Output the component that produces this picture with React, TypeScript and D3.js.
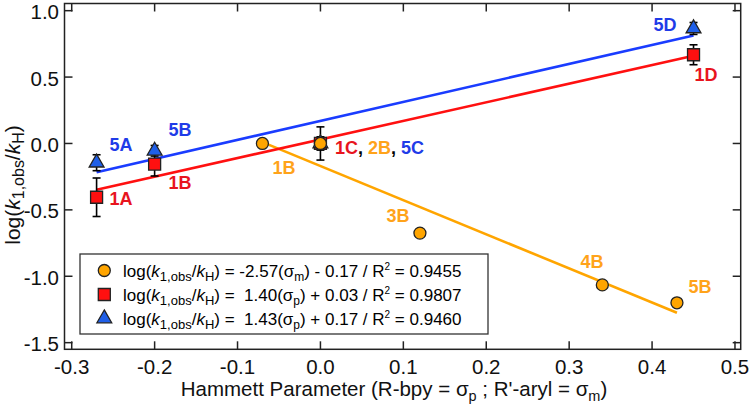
import React from "react";
import * as d3 from "d3";

const xTicks = [-0.3, -0.2, -0.1, 0.0, 0.1, 0.2, 0.3, 0.4, 0.5];
const yTicks = [1.0, 0.5, 0.0, -0.5, -1.0, -1.5];

const orangeX = [-0.07, 0.0, 0.12, 0.34, 0.43];
const orangeY = [0.0, 0.0, -0.675, -1.065, -1.2];

const redX = [-0.27, -0.2, 0.0, 0.45];
const redY = [-0.405, -0.155, 0.0, 0.668];
const redErr = [0.145, 0.09, 0.125, 0.075];

const blueX = [-0.27, -0.2, 0.0, 0.45];
const blueY = [-0.145, -0.055, 0.0, 0.866];
const blueErr = [0.06, 0.04, 0.05, 0.045];

const fitSlope = [-2.57, 1.4, 1.43];
const fitIntercept = [-0.17, 0.03, 0.17];
const fitRange = [
  [-0.07, 0.43],
  [-0.27, 0.45],
  [-0.27, 0.45],
];
const fitR2 = ["0.9455", "0.9807", "0.9460"];
const fitSigma = ["m", "p", "p"];

const ORANGE = "#ffa500";
const RED = "#ff1010";
const BLUE = "#1a3cff";
const ORANGE_T = "#ffa31a";
const RED_T = "#e8141e";
const BLUE_T = "#1f3ce8";
const TRI_FILL = "#1f5fe8";

type Lbl = { text: string; x: number; y: number; color: string };
const pointLabels: Lbl[] = [
  { text: "5A", x: 121, y: 145, color: BLUE_T },
  { text: "5B", x: 180, y: 130, color: BLUE_T },
  { text: "1A", x: 121, y: 199, color: RED_T },
  { text: "1B", x: 180, y: 183, color: RED_T },
  { text: "1B", x: 284, y: 168, color: ORANGE_T },
  { text: "3B", x: 398, y: 216, color: ORANGE_T },
  { text: "4B", x: 592, y: 262, color: ORANGE_T },
  { text: "5B", x: 700, y: 287, color: ORANGE_T },
  { text: "5D", x: 665, y: 25, color: BLUE_T },
  { text: "1D", x: 706, y: 75, color: RED_T },
];

const FONT = "Liberation Sans, Arial, Helvetica, sans-serif";

export default function App() {
  const W = 750;
  const H = 406;
  const left = 64.5,
    right = 740.7,
    top = 3.5,
    bottom = 349.3;
  const x = d3.scaleLinear().domain([-0.3087, 0.5069]).range([left, right]);
  const y = d3.scaleLinear().domain([1.054, -1.55]).range([top, bottom]);
  const tickLen = 8;

  const line = d3
    .line<number>()
    .x((d) => x(d[0]))
    .y((d) => y(d[1]));

  const sq = d3.symbol(d3.symbolSquare, 144)();
  const circ = d3.symbol(d3.symbolCircle, 113)();
  const tri = d3.symbol(d3.symbolTriangle, 95)();
  const capW = 8;

  const errBar = (cx: number, cy: number, e: number, key: string) => {
    const px = x(cx);
    const y1 = y(cy + e);
    const y2 = y(cy - e);
    return (
      <g key={key} stroke="#000" strokeWidth={1.6}>
        <line x1={px} x2={px} y1={y1} y2={y2} />
        <line x1={px - capW / 2} x2={px + capW / 2} y1={y1} y2={y1} />
        <line x1={px - capW / 2} x2={px + capW / 2} y1={y2} y2={y2} />
      </g>
    );
  };

  const fitColors = [ORANGE, RED, BLUE];

  const legendRows = [0, 1, 2].map((i) => {
    const sign = fitIntercept[i] < 0 ? "-" : "+";
    const slopeStr =
      fitSlope[i] < 0 ? fitSlope[i].toFixed(2) : "\u00a0" + fitSlope[i].toFixed(2);
    return { i, sign, slopeStr };
  });

  return (
    <svg
      width={W}
      height={H}
      style={{ position: "absolute", left: 0, top: 0, background: "#fff" }}
      fontFamily={FONT}
    >
      <rect x={0} y={0} width={W} height={H} fill="#fff" />
      {/* fit lines */}
      {fitSlope.map((m, i) => {
        const pts = fitRange[i].map((xv) => [xv, m * xv + fitIntercept[i]]);
        return (
          <path
            key={"fit" + i}
            d={line(pts as any) || ""}
            fill="none"
            stroke={fitColors[i]}
            strokeWidth={2.6}
          />
        );
      })}
      {/* error bars */}
      {redX.map((xv, i) => errBar(xv, redY[i], redErr[i], "re" + i))}
      {blueX.map((xv, i) => errBar(xv, blueY[i], blueErr[i], "be" + i))}
      {/* markers */}
      {redX.map((xv, i) => (
        <path
          key={"r" + i}
          d={sq || ""}
          transform={`translate(${x(xv)},${y(redY[i])})`}
          fill={RED}
          stroke="#222"
          strokeWidth={1.3}
        />
      ))}
      {blueX.map((xv, i) => (
        <path
          key={"b" + i}
          d={tri || ""}
          transform={`translate(${x(xv)},${y(blueY[i])})`}
          fill={TRI_FILL}
          stroke="#222"
          strokeWidth={1.3}
        />
      ))}
      {orangeX.map((xv, i) => (
        <path
          key={"o" + i}
          d={circ || ""}
          transform={`translate(${x(xv)},${y(orangeY[i])})`}
          fill={ORANGE}
          stroke="#222"
          strokeWidth={1.3}
        />
      ))}
      {/* point labels */}
      <g fontWeight="bold" fontSize={18} dominantBaseline="central" textAnchor="middle">
        {pointLabels.map((l, i) => (
          <text key={"pl" + i} x={l.x} y={l.y} fill={l.color}>
            {l.text}
          </text>
        ))}
      </g>
      <text x={335} y={148} fontWeight="bold" fontSize={18} dominantBaseline="central">
        <tspan fill={RED_T}>1C</tspan>
        <tspan fill="#000">, </tspan>
        <tspan fill={ORANGE_T}>2B</tspan>
        <tspan fill="#000">, </tspan>
        <tspan fill={BLUE_T}>5C</tspan>
      </text>

      {/* legend */}
      <rect x={80} y={254} width={408} height={80} fill="#fff" stroke="#333" strokeWidth={1.3} />
      {legendRows.map(({ i, sign, slopeStr }) => {
        const cy = [270.5, 294.5, 318.5][i];
        const sym = [circ, sq, tri][i];
        const fill = [ORANGE, RED, TRI_FILL][i];
        return (
          <g key={"lg" + i}>
            <path
              d={sym || ""}
              transform={`translate(104.3,${cy})`}
              fill={fill}
              stroke="#222"
              strokeWidth={1.3}
            />
            <text x={123} y={cy + 6} fontSize={17} fill="#000">
              <tspan>log(</tspan>
              <tspan fontStyle="italic">k</tspan>
              <tspan fontSize={13} dy={4}>1,obs</tspan>
              <tspan dy={-4}>/</tspan>
              <tspan fontStyle="italic">k</tspan>
              <tspan fontSize={13} dy={4}>H</tspan>
              <tspan dy={-4}>{`) = ${slopeStr}(σ`}</tspan>
              <tspan fontSize={12} dy={4}>{fitSigma[i]}</tspan>
              <tspan dy={-4}>{`) ${sign} ${Math.abs(fitIntercept[i]).toFixed(2)} / R`}</tspan>
              <tspan fontSize={10} dy={-7}>2</tspan>
              <tspan dy={7}>{` = ${fitR2[i]}`}</tspan>
            </text>
          </g>
        );
      })}

      {/* frame */}
      <rect x={left} y={top} width={right - left} height={bottom - top} fill="none" stroke="#222" strokeWidth={1.5} />
      <g stroke="#222" strokeWidth={1.5}>
        {xTicks.map((t) => (
          <g key={"xt" + t}>
            <line x1={x(t)} x2={x(t)} y1={bottom} y2={bottom - tickLen} />
            <line x1={x(t)} x2={x(t)} y1={top} y2={top + tickLen} />
          </g>
        ))}
        {yTicks.map((t) => (
          <g key={"yt" + t}>
            <line x1={left} x2={left + tickLen} y1={y(t)} y2={y(t)} />
            <line x1={right} x2={right - tickLen} y1={y(t)} y2={y(t)} />
          </g>
        ))}
      </g>
      <g fontSize={20.5} fill="#111">
        {xTicks.map((t) => (
          <text key={"xl" + t} x={x(t)} y={374} textAnchor="middle">
            {d3.format(".1f")(t).replace("−", "-")}
          </text>
        ))}
        {yTicks.map((t) => (
          <text key={"yl" + t} x={59} y={y(t) + 1} textAnchor="end" dominantBaseline="central">
            {d3.format(".1f")(t).replace("−", "-")}
          </text>
        ))}
      </g>
      {/* axis titles */}
      <text x={394} y={396} fontSize={20.5} textAnchor="middle" fill="#111">
        <tspan>Hammett Parameter (R-bpy = σ</tspan>
        <tspan fontSize={14.5} dy={5}>p</tspan>
        <tspan dy={-5}> ; R'-aryl = σ</tspan>
        <tspan fontSize={14.5} dy={5}>m</tspan>
        <tspan dy={-5}>)</tspan>
      </text>
      <text
        transform="translate(20,185) rotate(-90)"
        fontSize={21}
        textAnchor="middle"
        fill="#111"
      >
        <tspan>log(</tspan>
        <tspan fontStyle="italic">k</tspan>
        <tspan fontSize={16} dy={4}>1,obs</tspan>
        <tspan dy={-4}>/</tspan>
        <tspan fontStyle="italic">k</tspan>
        <tspan fontSize={16} dy={4}>H</tspan>
        <tspan dy={-4}>)</tspan>
      </text>
    </svg>
  );
}
